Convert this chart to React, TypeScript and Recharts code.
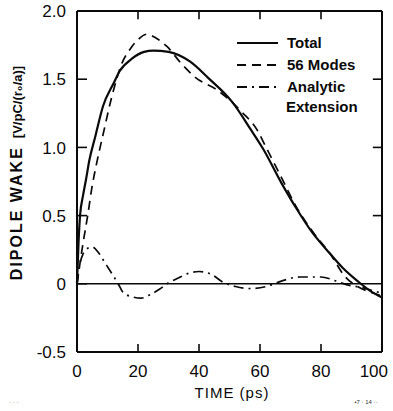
import React from "react";
import { LineChart, Line, XAxis, YAxis, ReferenceLine, Legend, Label } from "recharts";

// values
const timeTicks = [0, 20, 40, 60, 80, 100];
const wakeTicks = [-0.5, 0, 0.5, 1.0, 1.5, 2.0];
const topTicks = [20, 40, 60, 80];
const rightTicks = [0.5, 1.0, 1.5];

const totalTime = [0, 0.5, 1, 2, 3, 4, 6, 8.5, 12, 14, 18, 22, 25, 30, 37, 43, 51, 57, 61, 67, 72, 77, 83, 87, 92, 96, 100];
const totalWake = [0, 0.3, 0.5, 0.65, 0.77, 0.9, 1.08, 1.3, 1.47, 1.56, 1.65, 1.7, 1.71, 1.7, 1.63, 1.51, 1.33, 1.13, 0.99, 0.74, 0.55, 0.38, 0.22, 0.12, 0.02, -0.05, -0.1];

const modesTime = [0, 2, 3.5, 5, 6.5, 8.6, 11.4, 14.8, 17.4, 20, 23, 26, 29.5, 34, 39, 46, 54, 59, 62, 67, 72, 77, 83, 88, 92, 96, 100];
const modesWake = [0, 0.3, 0.5, 0.72, 0.89, 1.1, 1.37, 1.62, 1.72, 1.79, 1.83, 1.8, 1.74, 1.62, 1.51, 1.42, 1.26, 1.13, 1.0, 0.78, 0.56, 0.39, 0.22, 0.05, -0.02, -0.06, -0.09];

const analyticTime = [0, 1, 2, 3.5, 5, 7, 9, 11, 13.5, 15, 18, 21, 24, 27, 29.5, 33, 37, 40, 44, 48, 52, 57, 62, 67, 73, 80, 85, 89, 93, 97, 100];
const analyticWake = [0, 0.15, 0.22, 0.26, 0.27, 0.23, 0.16, 0.09, 0, -0.06, -0.095, -0.105, -0.08, -0.04, 0, 0.04, 0.08, 0.09, 0.07, 0.01, -0.02, -0.035, -0.02, 0.02, 0.05, 0.05, 0.02, -0.01, -0.025, -0.05, -0.07];

const legendItems = [
  { name: "Total", dash: "" },
  { name: "56 Modes", dash: "9 6" },
  { name: "Analytic", dash: "10 5 2 5" },
];

const toRows = (ts: number[], vs: number[]) => ts.map((t, i) => ({ t, v: vs[i] }));

const ink = "#0a0a0a";
const font = "'Liberation Sans', Arial, sans-serif";

const fmtWake = (v: number) => (v === 0 ? "0" : v.toFixed(1));

const LeftTick = (props: any) => {
  const { x, y, payload } = props;
  return (
    <g>
      <text x={x} y={y} dy="0.36em" textAnchor="end" fontSize={17} fontFamily={font} fill={ink}>
        {fmtWake(payload.value)}
      </text>
      <line x1={x + 11} x2={x + 21} y1={y} y2={y} stroke={ink} strokeWidth={1.6} />
    </g>
  );
};

const BottomTick = (props: any) => {
  const { x, y, payload } = props;
  const last = payload.value === 100;
  return (
    <g>
      <text
        x={last ? x + 6 : x}
        y={y}
        dy="0.71em"
        textAnchor={last ? "end" : "middle"}
        fontSize={17}
        fontFamily={font}
        fill={ink}
      >
        {payload.value}
      </text>
      <line x1={x} x2={x} y1={y - 13} y2={y - 21} stroke={ink} strokeWidth={1.6} />
    </g>
  );
};

const renderLegend = () => (
  <svg width={160} height={90}>
    {legendItems.map((it, i) => (
      <g key={it.name}>
        <line x1={7} x2={48} y1={13 + i * 22} y2={13 + i * 22} stroke={ink} strokeWidth={1.8} strokeDasharray={it.dash} />
        <text x={57} y={13 + i * 22} dy="0.36em" fontSize={15} fontWeight="bold" fontFamily={font} fill={ink}>
          {it.name}
        </text>
      </g>
    ))}
    <text x={56} y={77} dy="0.36em" fontSize={15} fontWeight="bold" fontFamily={font} fill={ink}>
      Extension
    </text>
  </svg>
);

const YTitle = (props: any) => {
  const { viewBox } = props;
  const cx = viewBox.x + 16;
  const cy = 173;
  return (
    <text transform={`translate(${cx},${cy}) rotate(-90)`} textAnchor="middle" dy="0.36em" fontFamily={font} fill={ink}>
      <tspan fontSize={16} fontWeight="bold" letterSpacing={2}>DIPOLE WAKE</tspan>
      <tspan fontSize={13} fontWeight="bold" dx={8}>[V/pC/(r₀/a)]</tspan>
    </text>
  );
};

const XTitle = (props: any) => {
  const { viewBox } = props;
  return (
    <g>
      <text x={232} y={viewBox.y + 46} textAnchor="middle" fontSize={15} fontFamily={font} fill={ink} letterSpacing={1}>
        TIME  (ps)
      </text>
      <text x={14} y={viewBox.y + 52} textAnchor="middle" fontSize={6} fill="#333" fontFamily={font}>
        · · ·
      </text>
      <text x={366} y={viewBox.y + 52} textAnchor="middle" fontSize={6} fill="#333" fontFamily={font}>
        •7 · 14 ··
      </text>
    </g>
  );
};

export default function App() {
  return (
    <div style={{ position: "absolute", left: 0, top: 0, width: 393, height: 411, background: "#fff" }}>
      <LineChart width={393} height={411} margin={{ top: 0, right: 0, bottom: 0, left: 0 }}>
        <XAxis
          xAxisId="b"
          dataKey="t"
          type="number"
          domain={[0, 100]}
          ticks={timeTicks}
          height={59}
          tickSize={11}
          tickMargin={2}
          tickLine={false}
          axisLine={{ stroke: ink, strokeWidth: 2 }}
          tick={<BottomTick />}
          interval={0}
        >
          <Label content={<XTitle />} />
        </XAxis>
        <XAxis
          xAxisId="top"
          orientation="top"
          dataKey="t"
          type="number"
          domain={[0, 100]}
          ticks={topTicks}
          height={11}
          tickLine={false}
          tick={false}
          axisLine={{ stroke: ink, strokeWidth: 2 }}
        />
        <YAxis
          yAxisId="l"
          type="number"
          domain={[-0.5, 2]}
          ticks={wakeTicks}
          width={77}
          tickSize={9}
          tickMargin={2}
          tickLine={false}
          axisLine={{ stroke: ink, strokeWidth: 2 }}
          tick={<LeftTick />}
          interval={0}
        >
          <Label content={<YTitle />} />
        </YAxis>
        <YAxis
          yAxisId="r"
          orientation="right"
          type="number"
          domain={[-0.5, 2]}
          ticks={rightTicks}
          width={11}
          tickLine={false}
          tick={false}
          axisLine={{ stroke: ink, strokeWidth: 2 }}
        />
        {/* inward ticks on the top and right sides of the frame */}
        {topTicks.map((t) => (
          <ReferenceLine
            key={"tt" + t}
            xAxisId="b"
            yAxisId="l"
            segment={[{ x: t, y: 2 }, { x: t, y: 1.94 }]}
            stroke={ink}
            strokeWidth={1.6}
            ifOverflow="visible"
          />
        ))}
        {rightTicks.map((v) => (
          <ReferenceLine
            key={"rt" + v}
            xAxisId="b"
            yAxisId="l"
            segment={[{ x: 97, y: v }, { x: 100, y: v }]}
            stroke={ink}
            strokeWidth={1.6}
            ifOverflow="visible"
          />
        ))}
        <ReferenceLine xAxisId="b" yAxisId="l" y={0} stroke={ink} strokeWidth={1.6} />
        {/* analytic curve hangs off the top axis (same 0-100 domain) so that axis gets drawn */}
        <Line
          xAxisId="top"
          yAxisId="l"
          data={toRows(analyticTime, analyticWake)}
          dataKey="v"
          name="Analytic Extension"
          type="monotone"
          stroke={ink}
          strokeWidth={1.7}
          strokeDasharray="10 5 2 5"
          dot={false}
          isAnimationActive={false}
        />
        <Line
          xAxisId="b"
          yAxisId="l"
          data={toRows(modesTime, modesWake)}
          dataKey="v"
          name="56 Modes"
          type="monotone"
          stroke={ink}
          strokeWidth={1.7}
          strokeDasharray="9 6"
          dot={false}
          isAnimationActive={false}
        />
        <Line
          xAxisId="b"
          yAxisId="l"
          data={toRows(totalTime, totalWake)}
          dataKey="v"
          name="Total"
          type="monotone"
          stroke={ink}
          strokeWidth={2.2}
          dot={false}
          isAnimationActive={false}
        />
        <Legend
          layout="vertical"
          align="center"
          verticalAlign="middle"
          content={renderLegend}
          wrapperStyle={{ position: "absolute", left: 230, top: 30, width: 160, height: 90 }}
        />
      </LineChart>
    </div>
  );
}
